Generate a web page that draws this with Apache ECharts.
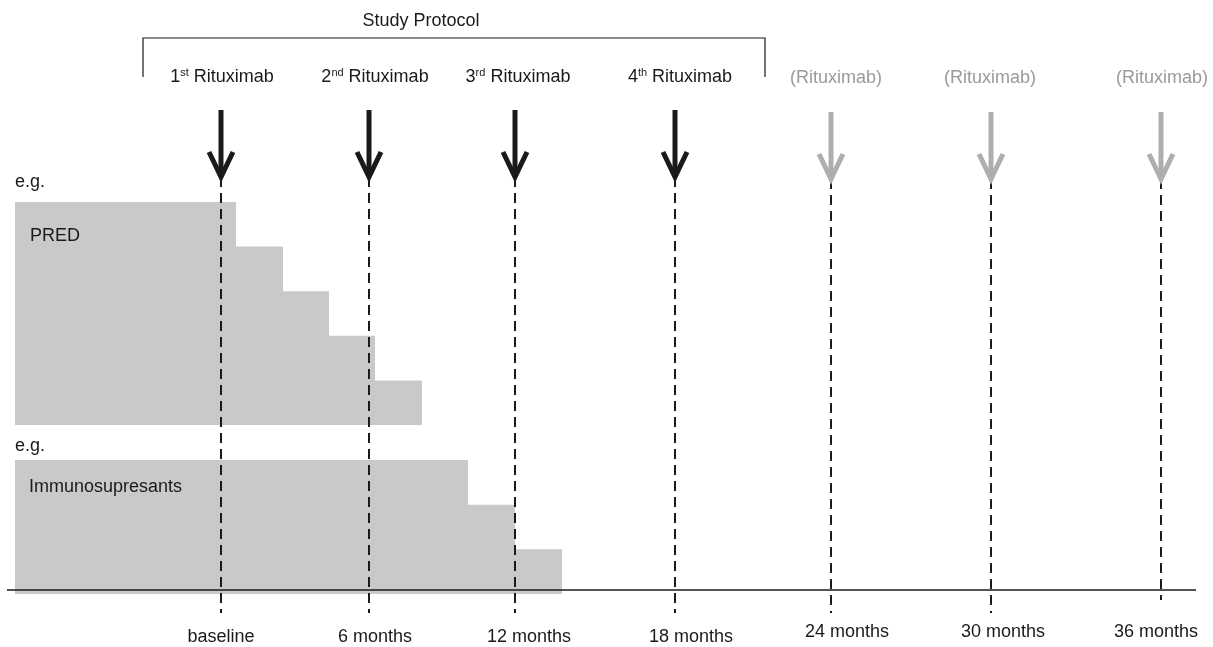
<!DOCTYPE html>
<html><head><meta charset="utf-8">
<script src="https://cdn.jsdelivr.net/npm/echarts@6/dist/echarts.min.js"></script>
<style>html,body{margin:0;padding:0;background:#fff}#c{width:1213px;height:647px}</style>
</head><body><div id="c"></div>
<script>
// Timepoints (schematic x position along the timeline)
const timepointLabels = ['baseline','6 months','12 months','18 months','24 months','30 months','36 months'];
const timepointPos = [221, 369, 515, 675, 831, 991, 1161];
const timepointLabelPos = [221, 375, 529, 691, 847, 1003, 1156];
const doseLabelPos = [222, 375, 518, 680, 836, 990, 1162];
const doseOrdinals = ['1','2','3','4','','',''];
const doseSuffix = ['st','nd','rd','th','','',''];
const inProtocol = [true,true,true,true,false,false,false];
// Tapering steps: [start, end, dose level]
const predSteps = [[15,236,5],[236,283,4],[283,329,3],[329,375,2],[375,422,1]];
const immunoSteps = [[15,468,3],[468,515,2],[515,562,1]];

const FONT = '"Liberation Sans", Arial, Helvetica, sans-serif';
const FS = 18;
const chart = echarts.init(document.getElementById('c'));

function stepItem(params, api) {
  const p0 = api.coord([api.value(0), api.value(2)]);
  const p1 = api.coord([api.value(1), 0]);
  return { type: 'rect', shape: { x: p0[0], y: p0[1], width: p1[0]-p0[0], height: p1[1]-p0[1] },
    style: { fill: '#c8c9cb' } };
}

const tpData = timepointPos.map((x,i)=>[x, i]);

function tpItem(params, api) {
  const i = api.value(1);
  const x = api.coord([api.value(0), 0])[0];
  const X = v => api.coord([v, 0])[0];
  const y = v => api.coord([0, v])[1];
  const prot = inProtocol[i];
  const col = prot ? '#1a1a1a' : '#aeaeae';
  const tipY = prot ? 177 : 179;
  const shaftTop = prot ? 110 : 112;
  const dashEnd = i === 6 ? 600 : 613;
  const children = [
    { type: 'line', shape: { x1: x, y1: y(tipY), x2: x, y2: y(dashEnd) },
      style: { stroke: '#1a1a1a', lineWidth: 2, lineDash: [10, 6] } },
    { type: 'line', shape: { x1: x, y1: y(shaftTop), x2: x, y2: y(tipY - 3) },
      style: { stroke: col, lineWidth: 5 } },
    { type: 'polyline', shape: { points: [[x-12, y(tipY-25)], [x, y(tipY)], [x+12, y(tipY-25)]] },
      style: { stroke: col, fill: null, lineWidth: 5, lineJoin: 'miter' } },
    { type: 'text', x: X(doseLabelPos[i]), y: y(prot ? 77 : 78), style: {
        text: prot ? '{n|' + doseOrdinals[i] + '}{s|' + doseSuffix[i] + '}{n| Rituximab}' : '(Rituximab)',
        align: 'center', verticalAlign: 'middle', fill: prot ? '#1a1a1a' : '#9a9a9a',
        font: FS + 'px ' + FONT,
        rich: { n: { fontSize: FS, fontFamily: FONT, fill: '#1a1a1a' },
                s: { fontSize: 11, fontFamily: FONT, fill: '#1a1a1a', verticalAlign: 'top', padding: [0,0,9,0] } } } },
    { type: 'text', x: X(timepointLabelPos[i]), y: y(i < 4 ? 637 : 632), style: {
        text: timepointLabels[i], align: 'center', verticalAlign: 'middle', fill: '#1a1a1a', font: FS + 'px ' + FONT } }
  ];
  return { type: 'group', children };
}

chart.setOption({
  animation: false,
  grid: [
    { left: 0, width: 1213, top: 202, height: 223 },
    { left: 0, width: 1213, top: 460, height: 134 },
    { left: 0, width: 1213, top: 0, height: 647 }
  ],
  xAxis: [0,1,2].map(g => ({ type: 'value', gridIndex: g, min: 0, max: 1213, show: false })),
  yAxis: [
    { type: 'value', gridIndex: 0, min: 0, max: 5, show: false },
    { type: 'value', gridIndex: 1, min: 0, max: 3, show: false },
    { type: 'value', gridIndex: 2, min: 0, max: 647, inverse: true, show: false }
  ],
  series: [
    { type: 'custom', xAxisIndex: 0, yAxisIndex: 0, data: predSteps, renderItem: stepItem, z: 1 },
    { type: 'custom', xAxisIndex: 1, yAxisIndex: 1, data: immunoSteps, renderItem: stepItem, z: 1 },
    { type: 'custom', xAxisIndex: 2, yAxisIndex: 2, data: [[0,0]], z: 3,
      renderItem: (params, api) => {
        const c = (x,y) => api.coord([x,y]);
        const t = (txt, x, y, align) => ({ type: 'text', x: c(x,y)[0], y: c(x,y)[1],
          style: { text: txt, align: align || 'left', verticalAlign: 'middle', fill: '#1a1a1a', font: FS + 'px ' + FONT } });
        return { type: 'group', children: [
          { type: 'line', shape: { x1: c(7,590)[0], y1: c(7,590)[1], x2: c(1196,590)[0], y2: c(1196,590)[1] },
            style: { stroke: '#1a1a1a', lineWidth: 1.3 } },
          { type: 'polyline', shape: { points: [c(143,77), c(143,38), c(765,38), c(765,77)] },
            style: { stroke: '#1a1a1a', fill: null, lineWidth: 1.2 } },
          t('Study Protocol', 421, 21, 'center'),
          t('e.g.', 15, 182), t('PRED', 30, 236),
          t('e.g.', 15, 446), t('Immunosupresants', 29, 487)
        ]};
      } },
    { type: 'custom', xAxisIndex: 2, yAxisIndex: 2, data: tpData, renderItem: tpItem, z: 4 }
  ]
});
</script></body></html>
